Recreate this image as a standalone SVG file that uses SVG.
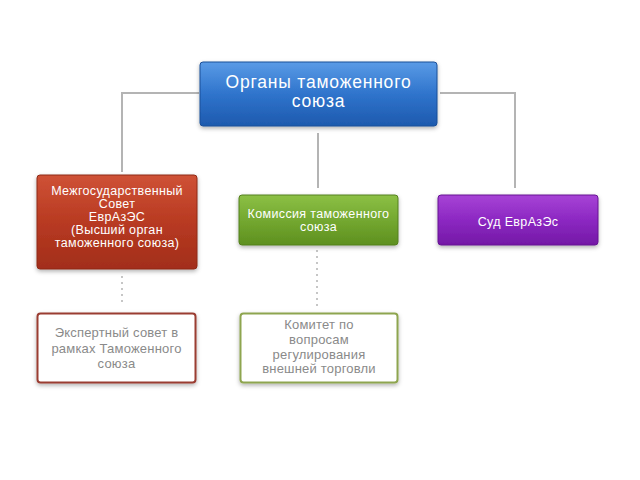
<svg xmlns="http://www.w3.org/2000/svg" width="640" height="480" viewBox="0 0 640 480">
<style>
.t{font-family:"Liberation Sans",Arial,sans-serif;text-anchor:middle;}
.w{fill:#ffffff;font-size:12.5px;letter-spacing:0.35px;}
.g{fill:#8a8a8a;font-size:13px;letter-spacing:0.2px;}
.conn{stroke:#b4b4b4;stroke-width:2;fill:none;}
.dot{stroke:#b4b4b4;stroke-width:1.5;fill:none;stroke-dasharray:2 4;}
</style>
<defs>
<linearGradient id="gb" x1="0" y1="0" x2="0" y2="1">
<stop offset="0" stop-color="#5a9be6"/><stop offset="0.5" stop-color="#2f74cc"/><stop offset="1" stop-color="#1e5aae"/>
</linearGradient>
<linearGradient id="gr" x1="0" y1="0" x2="0" y2="1">
<stop offset="0" stop-color="#cf5236"/><stop offset="0.5" stop-color="#b83a22"/><stop offset="1" stop-color="#a22e1a"/>
</linearGradient>
<linearGradient id="gg" x1="0" y1="0" x2="0" y2="1">
<stop offset="0" stop-color="#8cc045"/><stop offset="0.5" stop-color="#74a830"/><stop offset="1" stop-color="#5e9020"/>
</linearGradient>
<linearGradient id="gp" x1="0" y1="0" x2="0" y2="1">
<stop offset="0" stop-color="#a743d6"/><stop offset="0.5" stop-color="#8c28c2"/><stop offset="1" stop-color="#7418a6"/>
</linearGradient>
<filter id="sh" x="-10%" y="-10%" width="120%" height="130%">
<feDropShadow dx="0" dy="2" stdDeviation="2" flood-color="#000" flood-opacity="0.3"/>
</filter>
</defs>
<rect width="640" height="480" fill="#ffffff"/>
<g id="connectors">
<polyline class="conn" points="199,93 122,93 122,172"/>
<polyline class="conn" points="440,93 515,93 515,188"/>
<line class="conn" x1="318" y1="133" x2="318" y2="188"/>
<line class="dot" x1="122" y1="276" x2="122" y2="306"/>
<line class="dot" x1="317" y1="250" x2="317" y2="306"/>
</g>
<g id="n-top">
<rect x="200" y="62" width="237" height="64" rx="3" fill="url(#gb)" stroke="#1b4f98" stroke-width="1" filter="url(#sh)"/>
<text class="t" x="318.5" y="88" font-size="17.5" letter-spacing="0.8" fill="#ffffff">Органы таможенного</text>
<text class="t" x="318.5" y="107" font-size="17.5" letter-spacing="0.8" fill="#ffffff">союза</text>
</g>
<g id="n-council">
<rect x="37" y="175" width="160" height="94" rx="3" fill="url(#gr)" stroke="#8e2a18" stroke-width="1" filter="url(#sh)"/>
<text class="t w" x="117" y="195">Межгосударственный</text>
<text class="t w" x="117" y="208">Совет</text>
<text class="t w" x="117" y="221">ЕврАзЭС</text>
<text class="t w" x="117" y="234">(Высший орган</text>
<text class="t w" x="117" y="247">таможенного союза)</text>
</g>
<g id="n-commission">
<rect x="239" y="195" width="159" height="50" rx="3" fill="url(#gg)" stroke="#55801e" stroke-width="1" filter="url(#sh)"/>
<text class="t w" x="318.5" y="218">Комиссия таможенного</text>
<text class="t w" x="318.5" y="231">союза</text>
</g>
<g id="n-court">
<rect x="438" y="195" width="160" height="50" rx="3" fill="url(#gp)" stroke="#661592" stroke-width="1" filter="url(#sh)"/>
<text class="t w" x="518" y="226">Суд ЕврАзЭс</text>
</g>
<g id="n-expert">
<rect x="37.5" y="313.5" width="158" height="69" rx="3" fill="#ffffff" stroke="#9a3d30" stroke-width="2" filter="url(#sh)"/>
<text class="t g" x="116.5" y="337">Экспертный совет в</text>
<text class="t g" x="116.5" y="353">рамках Таможенного</text>
<text class="t g" x="116.5" y="368">союза</text>
</g>
<g id="n-committee">
<rect x="240.5" y="313.5" width="157" height="69" rx="3" fill="#ffffff" stroke="#8ea550" stroke-width="2" filter="url(#sh)"/>
<text class="t g" x="319" y="329">Комитет по</text>
<text class="t g" x="319" y="344">вопросам</text>
<text class="t g" x="319" y="359">регулирования</text>
<text class="t g" x="319" y="373">внешней торговли</text>
</g>
</svg>
